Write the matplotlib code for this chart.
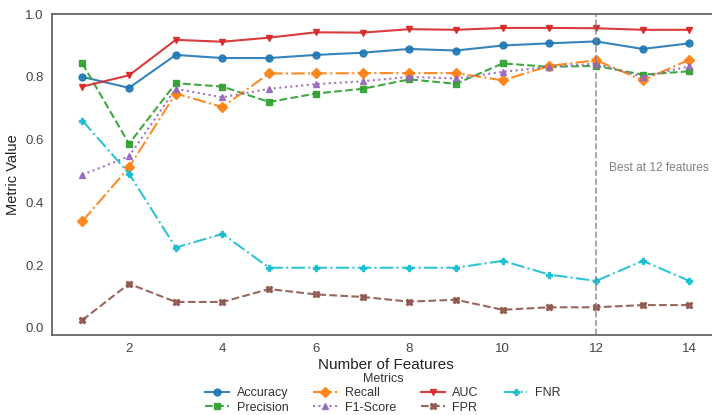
import matplotlib
matplotlib.use("Agg")
from matplotlib import pyplot as plt

plt.rcParams['font.family'] = ['Liberation Sans', 'DejaVu Sans']

n_features = list(range(1, 15))
accuracy = [0.800, 0.765, 0.870, 0.860, 0.860, 0.870, 0.877, 0.889, 0.884, 0.900, 0.907, 0.913, 0.889, 0.907]
precision = [0.843, 0.587, 0.780, 0.769, 0.720, 0.747, 0.762, 0.792, 0.778, 0.843, 0.832, 0.835, 0.807, 0.818]
recall = [0.340, 0.512, 0.747, 0.704, 0.811, 0.811, 0.812, 0.812, 0.812, 0.789, 0.835, 0.853, 0.789, 0.855]
f1_score = [0.488, 0.547, 0.762, 0.735, 0.762, 0.777, 0.786, 0.800, 0.795, 0.816, 0.832, 0.842, 0.800, 0.834]
auc = [0.769, 0.805, 0.918, 0.912, 0.925, 0.942, 0.941, 0.952, 0.950, 0.956, 0.956, 0.955, 0.950, 0.950]
fpr = [0.025, 0.141, 0.083, 0.083, 0.124, 0.107, 0.099, 0.084, 0.090, 0.058, 0.066, 0.066, 0.073, 0.073]
fnr = [0.661, 0.492, 0.256, 0.300, 0.192, 0.192, 0.192, 0.192, 0.192, 0.214, 0.170, 0.150, 0.214, 0.150]
best_k = 12

series = [
    ('Accuracy', accuracy, '#1f77b4', '-', 'o'),
    ('Precision', precision, '#2ca02c', '--', 's'),
    ('Recall', recall, '#ff7f0e', '-.', 'D'),
    ('F1-Score', f1_score, '#9467bd', ':', '^'),
    ('AUC', auc, '#d62728', '-', 'v'),
    ('FPR', fpr, '#8c564b', '--', 'X'),
    ('FNR', fnr, '#17becf', '-.', 'P'),
]

fig = plt.figure(figsize=(7.12, 4.15), dpi=100)
ax = fig.add_axes([0.073, 0.193, 0.938, 0.773])

for name, vals, color, ls, mk in series:
    ax.plot(n_features, vals, color=color, linestyle=ls, marker=mk,
            markersize=5, linewidth=1.5, alpha=0.9, label=name)

ax.axvline(best_k, color='gray', linestyle='--', linewidth=1.2, alpha=0.8)
ax.text(best_k + 0.27, 0.51, f'Best at {best_k} features', color='gray',
        fontsize=8.6, va='center')

ax.set_xlim(0.35, 14.65)
ax.set_ylim(-0.022, 1.0)
ax.set_xticks([2, 4, 6, 8, 10, 12, 14])
ax.set_yticks([0.0, 0.2, 0.4, 0.6, 0.8, 1.0])
ax.tick_params(labelsize=9.5, colors='#444444', length=0, pad=6)
ax.set_xlabel('Number of Features', fontsize=11, color='#222222', labelpad=2)
ax.set_ylabel('Metric Value', fontsize=10.5, color='#222222')
for side in ['left', 'bottom', 'top', 'right']:
    ax.spines[side].set_color('#666666')
    ax.spines[side].set_linewidth(1.3)

leg = ax.legend(title='Metrics', ncol=4, loc='upper center',
                bbox_to_anchor=(0.538, 0.12), bbox_transform=fig.transFigure,
                frameon=False, fontsize=9, title_fontsize=9,
                labelspacing=0.2, handlelength=1.9, columnspacing=2.0,
                borderpad=0.1, handletextpad=0.6)
for t in leg.get_texts():
    t.set_color('#333333')
leg.get_title().set_color('#333333')

fig.savefig('out.png', dpi=100)
